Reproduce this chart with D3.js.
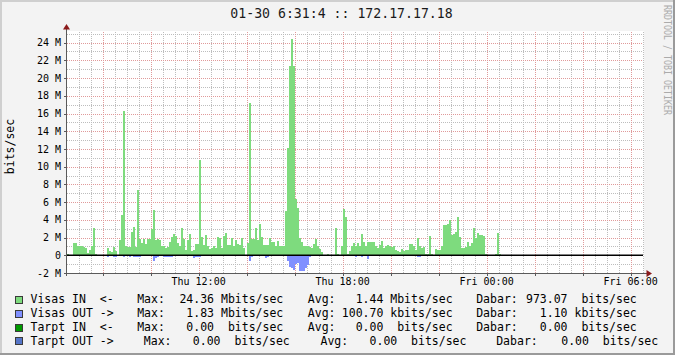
<!DOCTYPE html>
<html lang="en">
<head>
<meta charset="UTF-8">
<title>01-30 6:31:4 :: 172.17.17.18</title>
<script src="https://cdn.jsdelivr.net/npm/d3@7"></script>
<style>
    body { margin: 0; padding: 0; background: #ffffff; }
    svg { display: block; }
    text { font-family: "DejaVu Sans Mono", monospace; fill: #000; }
    .grid-minor { stroke: #bdbdbd; stroke-dasharray: 1,1; shape-rendering: crispEdges; }
    .grid-major { stroke: #e09a9a; stroke-dasharray: 1,1; shape-rendering: crispEdges; }
    .axis-line { stroke: #5a5a5a; shape-rendering: crispEdges; }
</style>
</head>
<body>
<svg id="chart" width="675" height="355"></svg>
<script>
    // traffic, Mbits/sec, one value per 5 minutes starting Thu 06:30
    var visasIn = [
        0.15, 0, 0, 1.4, 1.4, 1.1, 1.0, 1.05, 0.9, 0.85,
        0.3, 0.6, 1.0, 3.1, 0.15, 0, 0, 0, 0, 0,
        0.85, 0.5, 0.4, 0.95, 0.5, 0, 1.7, 4.5, 16.3, 1.1,
        0.9, 0.95, 2.6, 3.2, 0.95, 7.4, 1.85, 1.35, 1.85, 1.25,
        1.8, 1.8, 3.0, 5.15, 1.75, 1.85, 1.75, 1.0, 1.0, 0.8,
        0.95, 1.45, 2.1, 2.4, 2.2, 1.35, 1.0, 3.1, 1.8, 0.6,
        1.7, 2.35, 0.5, 0.6, 1.25, 1.3, 10.75, 2.1, 1.15, 2.3,
        1.0, 0.7, 0.85, 1.05, 0.85, 2.1, 1.9, 0.8, 2.2, 2.5,
        1.15, 1.15, 2.0, 1.0, 1.7, 1.25, 1.15, 2.0, 0.8, 0,
        1.4, 17.2, 1.85, 1.85, 3.05, 1.7, 3.5, 2.1, 1.15, 1.15,
        1.15, 2.0, 1.55, 1.55, 1.1, 1.6, 1.05, 1.0, 1.05, 5.0,
        12.1, 21.4, 24.36, 21.4, 6.4, 5.3, 2.0, 1.55, 1.0, 1.05,
        1.05, 0.9, 0.8, 1.3, 1.85, 1.05, 0.7, 0.4, 0, 0,
        0.1, 0, 0, 0, 3.1, 0.15, 0, 1.0, 5.2, 4.3,
        0.2, 0.5, 1.05, 1.35, 1.0, 1.35, 1.0, 2.35, 1.45, 1.0,
        1.5, 1.5, 1.5, 1.45, 1.05, 0.8, 1.15, 1.65, 0.8, 1.05,
        1.15, 1.1, 0.9, 1.0, 0.6, 0.5, 0.4, 0.7, 0.5, 0.6,
        0.6, 1.25, 1.25, 1.1, 0.6, 1.9, 1.0, 0.8, 0.9, 0.15,
        0.15, 2.2, 0.15, 0, 0.7, 0.55, 0.6, 1.0, 3.4, 3.4,
        3.5, 4.0, 2.3, 2.4, 2.6, 4.3, 2.1, 0.8, 0.8, 0.95,
        1.55, 1.1, 1.35, 3.05, 2.0, 2.55, 2.3, 2.3, 2.2, 0.15,
        0, 0, 0, 0, 0.15, 2.55, 0.15
    ];
    var visasOut = [
        0, 0, 0, 0, 0, 0, 0, 0, 0, 0,
        0, 0, 0, 0, 0, 0, 0, 0, 0, 0,
        0.15, 0, 0, 0.15, 0.15, 0, 0, 0, 0.15, 0,
        0, 0.15, 0, 0.15, 0.15, 0.15, 0.15, 0, 0.1, 0,
        0, 0, 0, 0.7, 0.3, 0.15, 0, 0, 0.15, 0.15,
        0.15, 0.15, 0.15, 0.1, 0.1, 0.1, 0.1, 0.1, 0.1, 0.1,
        0, 0, 0, 0.35, 0.2, 0.15, 0.15, 0, 0.1, 0.1,
        0, 0.1, 0.1, 0.1, 0, 0, 0, 0, 0, 0.1,
        0.1, 0.1, 0.1, 0.1, 0, 0, 0.1, 0, 0, 0,
        0, 0.7, 0.15, 0.1, 0.1, 0.1, 0.1, 0.1, 0.1, 0.35,
        0.2, 0.1, 0.1, 0.1, 0.1, 0.1, 0.1, 0.1, 0.1, 0.1,
        0.7, 1.3, 1.45, 1.7, 1.0, 0.9, 1.83, 1.8, 1.8, 1.45,
        1.1, 0.2, 0, 0, 0, 0, 0, 0, 0, 0,
        0, 0, 0, 0, 0.1, 0, 0, 0, 0.1, 0.1,
        0, 0, 0, 0, 0.25, 0, 0, 0.2, 0, 0,
        0.4, 0, 0, 0, 0, 0, 0, 0.1, 0.1, 0,
        0, 0, 0, 0, 0, 0, 0, 0, 0, 0,
        0, 0, 0, 0, 0, 0.15, 0.15, 0, 0, 0,
        0, 0, 0, 0, 0, 0, 0, 0, 0.1, 0,
        0, 0, 0, 0.1, 0.1, 0.1, 0, 0, 0, 0,
        0, 0.1, 0.1, 0, 0, 0.1, 0, 0, 0, 0,
        0, 0, 0, 0, 0, 0, 0
    ];

    var yMajorTicks = [-2, 0, 2, 4, 6, 8, 10, 12, 14, 16, 18, 20, 22, 24];
    var yMinorTicks = d3.range(-2, 26, 1);

    var legendNames  = ['Visas IN  <-', 'Visas OUT ->', 'Tarpt IN  <-', 'Tarpt OUT ->'];
    var legendColors = ['#7edb7e', '#8090ff', '#009a00', '#5575c8'];
    var maxValues    = [24.36, 1.83, 0, 0];
    var maxUnits     = ['M', 'M', ' ', ' '];
    var avgValues    = [1.44, 100.70, 0, 0];
    var avgUnits     = ['M', 'k', ' ', ' '];
    var lastValues   = [973.07, 1.10, 0, 0];
    var lastUnits    = [' ', 'k', ' ', ' '];

    var titleText = '01-30 6:31:4 :: 172.17.17.18';

    var W = 675, H = 355;
    var plot = { left: 67, right: 643, top: 32, bottom: 273 };

    var svg = d3.select('#chart');

    // background + 3d frame
    svg.append('rect').attr('width', W).attr('height', H).attr('fill', '#f3f3f3');
    svg.append('rect').attr('x', 0).attr('y', 0).attr('width', W).attr('height', 2).attr('fill', '#cfcfcf');
    svg.append('rect').attr('x', 0).attr('y', 0).attr('width', 2).attr('height', H).attr('fill', '#cfcfcf');
    svg.append('rect').attr('x', 0).attr('y', H - 2).attr('width', W).attr('height', 2).attr('fill', '#9a9a9a');
    svg.append('rect').attr('x', W - 2).attr('y', 0).attr('width', 2).attr('height', H).attr('fill', '#9a9a9a');

    // canvas
    svg.append('rect')
        .attr('x', plot.left).attr('y', plot.top - 1)
        .attr('width', plot.right - plot.left + 1).attr('height', plot.bottom - plot.top + 1)
        .attr('fill', '#ffffff');

    var sampleStart = new Date(2009, 0, 29, 6, 30);
    var viewStart = new Date(2009, 0, 29, 6, 31);
    var viewEnd = new Date(2009, 0, 30, 6, 31);
    var step = 5 * 60 * 1000;

    var x = d3.scaleTime().domain([viewStart, viewEnd]).range([plot.left, plot.right]);
    var y = d3.scaleLinear().domain([-2, 25.2]).range([plot.bottom, plot.top]);

    var crisp = function(v) { return Math.round(v) + 0.5; };

    // grid
    var grid = svg.append('g');
    grid.selectAll('.hmin').data(yMinorTicks.filter(function(v) { return v % 2 !== 0; }))
        .enter().append('line').attr('class', 'grid-minor')
        .attr('x1', plot.left).attr('x2', plot.right)
        .attr('y1', function(d) { return crisp(y(d)); }).attr('y2', function(d) { return crisp(y(d)); });

    var xMinor = d3.timeMinute.every(30).range(viewStart, viewEnd);
    var xMajor = d3.timeHour.every(2).range(viewStart, viewEnd);
    grid.selectAll('.vmin').data(xMinor.filter(function(d) { return !(d.getMinutes() === 0 && d.getHours() % 2 === 0); }))
        .enter().append('line').attr('class', 'grid-minor')
        .attr('y1', plot.top).attr('y2', plot.bottom)
        .attr('x1', function(d) { return crisp(x(d)); }).attr('x2', function(d) { return crisp(x(d)); });

    grid.selectAll('.hmaj').data(yMajorTicks.filter(function(v) { return v > -2; }))
        .enter().append('line').attr('class', 'grid-major')
        .attr('x1', plot.left).attr('x2', plot.right)
        .attr('y1', function(d) { return crisp(y(d)); }).attr('y2', function(d) { return crisp(y(d)); });
    grid.selectAll('.vmaj').data(xMajor)
        .enter().append('line').attr('class', 'grid-major')
        .attr('y1', plot.top).attr('y2', plot.bottom)
        .attr('x1', function(d) { return crisp(x(d)); }).attr('x2', function(d) { return crisp(x(d)); });

    // bars
    svg.append('clipPath').attr('id', 'clip')
        .append('rect').attr('x', plot.left).attr('y', plot.top - 2)
        .attr('width', plot.right - plot.left).attr('height', plot.bottom - plot.top + 2);

    var bars = svg.append('g').attr('clip-path', 'url(#clip)');
    var t0 = function(i) { return new Date(sampleStart.getTime() + i * step); };
    var t1 = function(i) { return new Date(sampleStart.getTime() + (i + 1) * step); };

    bars.selectAll('.in').data(visasIn).enter().append('rect')
        .attr('x', function(d, i) { return x(t0(i)); })
        .attr('width', function(d, i) { return x(t1(i)) - x(t0(i)); })
        .attr('y', function(d) { return y(d); })
        .attr('height', function(d) { return y(0) - y(d); })
        .attr('fill', legendColors[0])
        .attr('shape-rendering', 'crispEdges');

    bars.selectAll('.out').data(visasOut).enter().append('rect')
        .attr('x', function(d, i) { return x(t0(i)); })
        .attr('width', function(d, i) { return x(t1(i)) - x(t0(i)); })
        .attr('y', y(0))
        .attr('height', function(d) { return y(-d) - y(0); })
        .attr('fill', legendColors[1])
        .attr('shape-rendering', 'crispEdges');

    // zero rule
    svg.append('line')
        .attr('x1', plot.left).attr('x2', plot.right)
        .attr('y1', y(0)).attr('y2', y(0))
        .attr('stroke', '#000').attr('stroke-width', 1.6);

    // axes
    svg.append('line').attr('class', 'axis-line')
        .attr('x1', plot.left - 0.5).attr('x2', plot.left - 0.5)
        .attr('y1', plot.bottom + 3).attr('y2', plot.top - 4);
    svg.append('line').attr('class', 'axis-line')
        .attr('x1', plot.left - 3).attr('x2', plot.right + 4)
        .attr('y1', plot.bottom + 0.5).attr('y2', plot.bottom + 0.5);

    svg.append('path').attr('fill', '#8b1a1a')
        .attr('d', 'M' + (plot.left - 0.5) + ',' + (plot.top - 8) + 'l3.5,5.5h-7z');
    svg.append('path').attr('fill', '#8b1a1a')
        .attr('d', 'M' + (plot.right + 9) + ',' + (plot.bottom + 0.5) + 'l-5.5,-3.5v7z');

    // ticks
    svg.selectAll('.ytick').data(yMajorTicks).enter().append('line').attr('class', 'axis-line')
        .attr('x1', plot.left - 3).attr('x2', plot.left)
        .attr('y1', function(d) { return crisp(y(d)); }).attr('y2', function(d) { return crisp(y(d)); });
    svg.selectAll('.xtick').data(xMajor).enter().append('line').attr('class', 'axis-line')
        .attr('y1', plot.bottom).attr('y2', plot.bottom + 3)
        .attr('x1', function(d) { return crisp(x(d)); }).attr('x2', function(d) { return crisp(x(d)); });

    // y labels
    svg.selectAll('.ylab').data(yMajorTicks).enter().append('text')
        .attr('x', 61).attr('y', function(d) { return y(d) + 3.6; })
        .attr('text-anchor', 'end').style('font-size', '10px')
        .text(function(d) { return d === 0 ? '0' : d + ' M'; });

    // x labels
    var fmt = d3.timeFormat('%a %H:%M');
    svg.selectAll('.xlab').data(d3.timeHour.every(6).range(viewStart, viewEnd)).enter().append('text')
        .attr('x', function(d) { return x(d); }).attr('y', 285)
        .attr('text-anchor', 'middle').style('font-size', '10px')
        .text(function(d) { return fmt(d); });

    // title
    svg.append('text').attr('x', 341.5).attr('y', 18.3)
        .attr('text-anchor', 'middle').style('font-size', '13.2px').style('fill', '#1a1a1a')
        .text(titleText);

    // vertical label
    svg.append('text')
        .attr('transform', 'translate(13.5,146.5) rotate(-90)')
        .attr('text-anchor', 'middle').style('font-size', '11.5px')
        .text('bits/sec');

    // watermark
    svg.append('text')
        .attr('transform', 'translate(663.5,5) rotate(90)')
        .attr('textLength', 110).attr('lengthAdjust', 'spacingAndGlyphs')
        .style('font-size', '10px').style('fill', '#ababab')
        .text('RRDTOOL / TOBI OETIKER');

    // legend
    var cols = [
        { label: 30.5, max: 137.2, maxF: 172.5, avg: 307.8, avgF: 341.8, last: 476.2, lastF: 526 },
        { label: 30.5, max: 137.2, maxF: 172.5, avg: 307.8, avgF: 341.8, last: 476.2, lastF: 526 },
        { label: 30.5, max: 137.2, maxF: 172.5, avg: 307.8, avgF: 341.8, last: 476.2, lastF: 526 },
        { label: 30.5, max: 143.8, maxF: 179,   avg: 320.5, avgF: 355.7, last: 496.2, lastF: 547.4 }
    ];
    var rowY = [299.4, 313.2, 327.0, 340.8];
    var num = function(v, u) { return v.toFixed(2).padStart(6) + ' ' + u + 'bits/sec'; };

    var legend = svg.append('g').style('font-size', '11.5px');
    legendNames.forEach(function(name, i) {
        var c = cols[i], cy = rowY[i], by = cy + 4;
        legend.append('rect')
            .attr('x', 15.5).attr('y', Math.round(cy - 3.5) + 0.5)
            .attr('width', 7).attr('height', 7)
            .attr('fill', legendColors[i]).attr('stroke', '#3a3a3a').attr('stroke-width', 1);
        var items = [
            [c.label, name],
            [c.max, 'Max:'], [c.maxF, num(maxValues[i], maxUnits[i])],
            [c.avg, 'Avg:'], [c.avgF, num(avgValues[i], avgUnits[i])],
            [c.last, 'Dabar:'], [c.lastF, num(lastValues[i], lastUnits[i])]
        ];
        items.forEach(function(it) {
            legend.append('text').attr('x', it[0]).attr('y', by)
                .style('white-space', 'pre').text(it[1]);
        });
    });
</script>
</body>
</html>
